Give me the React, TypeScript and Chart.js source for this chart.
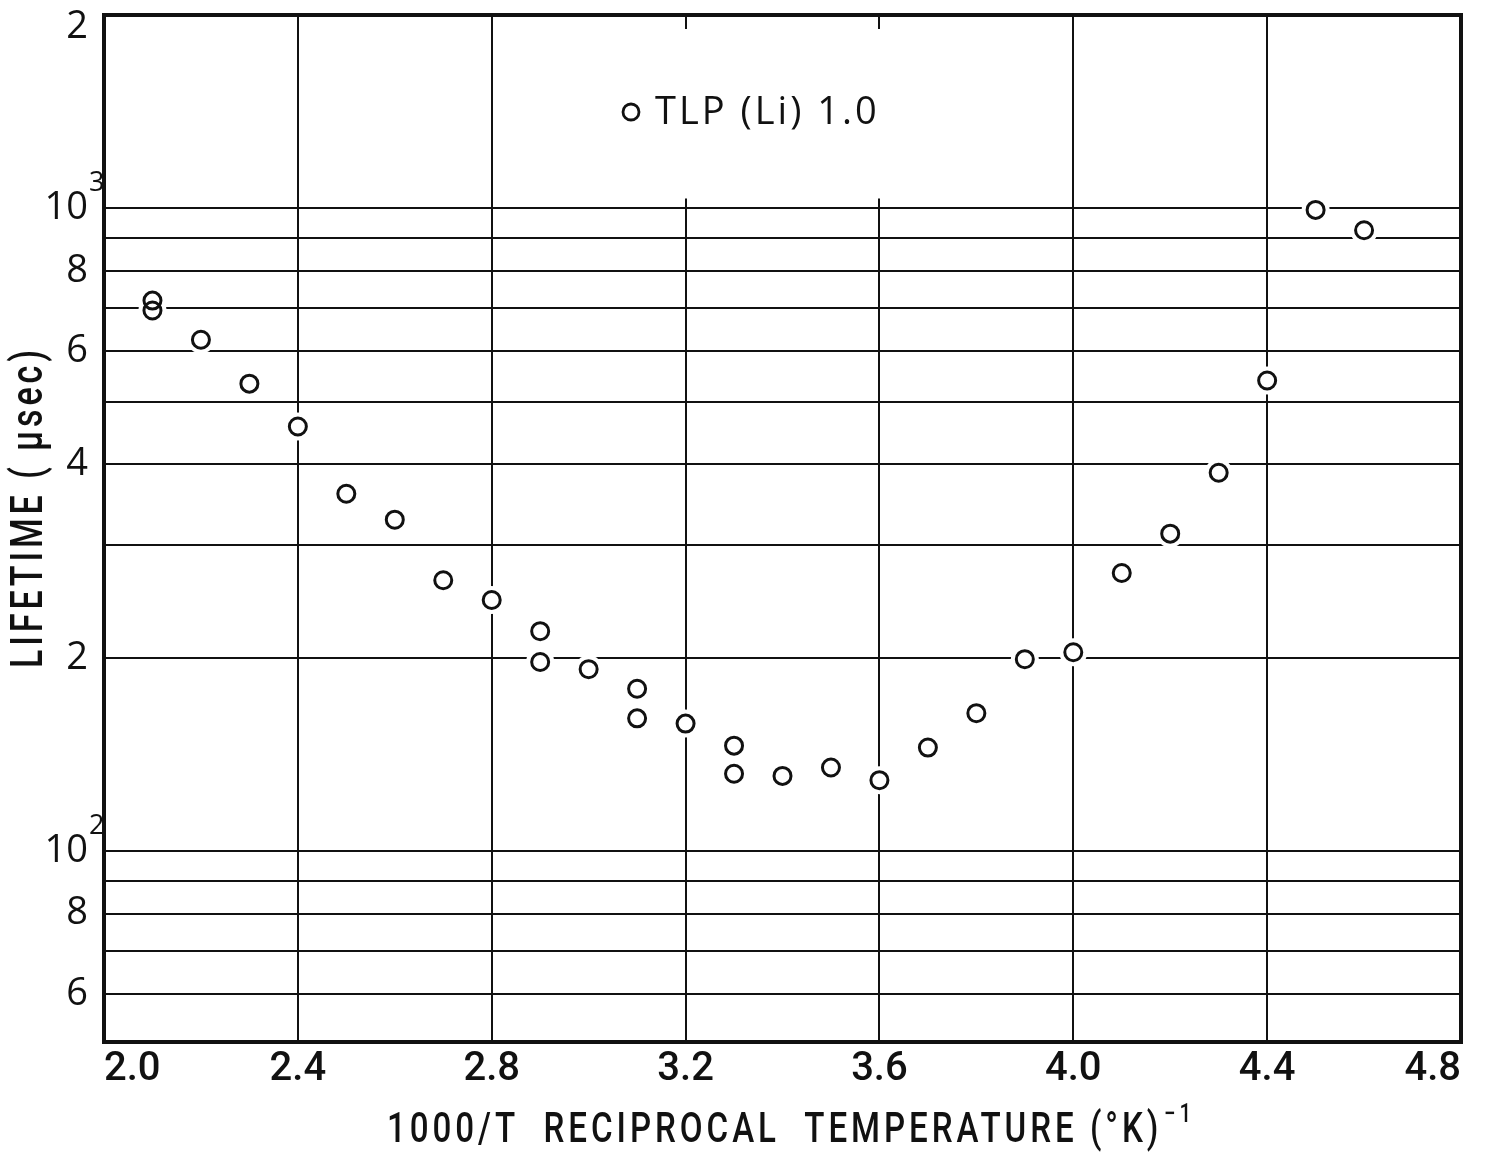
import React, { useEffect, useRef } from 'react';
import { Chart, registerables } from 'chart.js';

Chart.register(...registerables);

// Measured lifetimes of TLP (Li) 1.0 against reciprocal temperature
const reciprocalTemp = [
  2.1, 2.1, 2.2, 2.3, 2.4, 2.5, 2.6, 2.7, 2.8, 2.9, 2.9, 3.0, 3.1, 3.1, 3.2,
  3.3, 3.3, 3.4, 3.5, 3.6, 3.7, 3.8, 3.9, 4.0, 4.1, 4.2, 4.3, 4.4, 4.5, 4.6,
];
const lifetimeUsec = [
  719, 694, 625, 534, 458, 360, 328, 264, 246, 220, 197, 192, 179, 161, 158,
  146, 132, 131, 135, 129, 145, 164, 199, 204, 271, 312, 388, 540, 995, 925,
];

const seriesLabel = 'TLP (Li) 1.0';

// Axis ranges and tick layout
const X_MIN = 2.0;
const X_MAX = 4.8;
const Y_MIN = 50.5;
const Y_MAX = 2000;
const xTickValues = [2.0, 2.4, 2.8, 3.2, 3.6, 4.0, 4.4, 4.8];
const yGridValues = [60, 70, 80, 90, 100, 200, 300, 400, 500, 600, 700, 800, 900, 1000, 2000];
const yTickLabels: Record<number, string> = {
  2000: '2', 1000: '10', 800: '8', 600: '6', 400: '4', 200: '2', 100: '10', 80: '8', 60: '6',
};
const yTickExponents: Record<number, string> = { 1000: '3', 100: '2' };

const xTitle = '1000/T  RECIPROCAL  TEMPERATURE (°K)';
const xTitleExponent = '−1';
const yTitle = 'LIFETIME ( μsec)';

const INK = '#111';
const LETTERING = "Roboto, 'DejaVu Sans', sans-serif";
const WIDE = "'Open Sans', 'DejaVu Sans', sans-serif";
const WEIGHT = '500';

// Condensed lettering: draw at a natural width, then squeeze horizontally to a set length
function drawCondensed(
  ctx: CanvasRenderingContext2D,
  parts: { text: string; size: number; dx: number; dy: number }[],
  targetWidth: number,
  align: 'left' | 'center',
) {
  const widths = parts.map((p) => {
    ctx.font = `${WEIGHT} ${p.size}px ${LETTERING}`;
    return ctx.measureText(p.text).width;
  });
  const natural = widths.reduce((a, b, i) => a + b + parts[i].dx, 0);
  const sx = targetWidth / natural;
  ctx.save();
  ctx.scale(sx, 1);
  let cursor = align === 'center' ? -natural / 2 : 0;
  parts.forEach((p, i) => {
    cursor += p.dx;
    ctx.font = `${WEIGHT} ${p.size}px ${LETTERING}`;
    ctx.fillText(p.text, cursor, p.dy);
    cursor += widths[i];
  });
  ctx.restore();
}

const paperPlugin = {
  id: 'paperDecorations',
  beforeDatasetsDraw(chart: any) {
    const { ctx, chartArea, scales } = chart;
    const xs = scales.x;
    const ys = scales.y;
    // blank panel behind the legend (interrupts the vertical rulings)
    const x0 = xs.getPixelForValue(3.0);
    const x1 = xs.getPixelForValue(3.8);
    const y0 = chartArea.top + 14;
    const y1 = ys.getPixelForValue(1000) - 10;
    ctx.save();
    ctx.fillStyle = '#fff';
    ctx.fillRect(x0, y0, x1 - x0, y1 - y0);
    ctx.restore();
  },
  afterDatasetsDraw(chart: any) {
    const { ctx, chartArea, scales } = chart;
    const ys = scales.y;
    ctx.save();

    // plot frame
    ctx.strokeStyle = INK;
    ctx.lineWidth = 4;
    ctx.strokeRect(chartArea.left, chartArea.top, chartArea.right - chartArea.left, chartArea.bottom - chartArea.top);

    // top tick label sits just inside the frame
    const labelRight = chartArea.left - 16;
    ctx.fillStyle = INK;
    ctx.font = `${WEIGHT} 38px ${WIDE}`;
    ctx.textAlign = 'right';
    ctx.textBaseline = 'middle';
    ctx.fillText(yTickLabels[Y_MAX], labelRight, chartArea.top + 12);

    // powers of ten exponents
    ctx.font = `${WEIGHT} 27px ${WIDE}`;
    ctx.textAlign = 'left';
    Object.keys(yTickExponents).forEach((k) => {
      const v = Number(k);
      const py = ys.getPixelForValue(v);
      ctx.fillText(yTickExponents[v], labelRight + 1, py - 25);
    });

    // legend
    ctx.lineWidth = 2.8;
    ctx.beginPath();
    ctx.arc(631, 112, 8, 0, Math.PI * 2);
    ctx.stroke();
    ctx.font = `${WEIGHT} 38px ${WIDE}`;
    (ctx as any).letterSpacing = '3px';
    ctx.textAlign = 'left';
    ctx.textBaseline = 'middle';
    ctx.fillText(seriesLabel, 655, 113);

    // x-axis title with superscript
    (ctx as any).letterSpacing = '5px';
    ctx.textBaseline = 'alphabetic';
    ctx.save();
    ctx.translate(387, 1142);
    drawCondensed(
      ctx,
      [
        { text: xTitle, size: 42, dx: 0, dy: 0 },
        { text: xTitleExponent, size: 26, dx: 2, dy: -20 },
      ],
      808,
      'left',
    );
    ctx.restore();

    // y-axis title
    ctx.save();
    ctx.translate(31, 507);
    ctx.rotate(-Math.PI / 2);
    ctx.textBaseline = 'middle';
    drawCondensed(ctx, [{ text: yTitle, size: 44, dx: 0, dy: 0 }], 322, 'center');
    ctx.restore();

    ctx.restore();
  },
};

export default function App() {
  const canvasRef = useRef<HTMLCanvasElement | null>(null);

  useEffect(() => {
    if (!canvasRef.current) return;
    const points = reciprocalTemp.map((t, i) => ({ x: t, y: lifetimeUsec[i] }));

    const chart = new Chart(canvasRef.current, {
      type: 'scatter',
      data: {
        datasets: [
          {
            label: seriesLabel,
            data: points,
            showLine: false,
            pointRadius: 8.5,
            pointBorderWidth: 3,
            pointBorderColor: INK,
            pointBackgroundColor: 'rgba(255,255,255,0)',
            order: 0,
          },
          {
            label: 'clearance',
            data: points,
            showLine: false,
            pointRadius: 14,
            pointBorderWidth: 0,
            pointBorderColor: '#fff',
            pointBackgroundColor: '#fff',
            order: 1,
          },
        ],
      },
      options: {
        responsive: true,
        maintainAspectRatio: false,
        animation: false,
        events: [],
        layout: { padding: { top: 15, right: 26, left: 0, bottom: 0 } },
        plugins: {
          legend: { display: false },
          tooltip: { enabled: false },
        },
        scales: {
          x: {
            type: 'linear',
            min: X_MIN,
            max: X_MAX,
            afterBuildTicks: (s: any) => {
              s.ticks = xTickValues.map((v) => ({ value: v }));
            },
            afterFit: (s: any) => {
              s.height = 112;
              s.paddingLeft = 0;
              s.paddingRight = 0;
            },
            border: { display: false },
            grid: {
              drawTicks: false,
              lineWidth: 2,
              color: (c: any) =>
                c.tick && (c.tick.value === X_MIN || c.tick.value === X_MAX) ? 'rgba(0,0,0,0)' : INK,
            },
            ticks: {
              align: 'inner',
              padding: 4,
              autoSkip: false,
              maxRotation: 0,
              color: INK,
              font: { family: LETTERING, size: 40, weight: WEIGHT },
              callback: (v: any) => Number(v).toFixed(1),
            },
          },
          y: {
            type: 'logarithmic',
            min: Y_MIN,
            max: Y_MAX,
            afterBuildTicks: (s: any) => {
              s.ticks = [Y_MIN, ...yGridValues].map((v) => ({ value: v }));
            },
            afterFit: (s: any) => {
              s.width = 104;
              s.paddingTop = 0;
              s.paddingBottom = 0;
            },
            border: { display: false },
            grid: {
              drawTicks: false,
              lineWidth: 2,
              color: (c: any) =>
                c.tick && (c.tick.value === Y_MIN || c.tick.value === Y_MAX) ? 'rgba(0,0,0,0)' : INK,
            },
            ticks: {
              padding: 16,
              autoSkip: false,
              color: INK,
              font: { family: WIDE, size: 38, weight: WEIGHT },
              callback: (v: any) => (v === Y_MAX ? '' : yTickLabels[v] ?? ''),
            },
          },
        },
      },
      plugins: [paperPlugin],
    });

    return () => chart.destroy();
  }, []);

  return (
    <div style={{ position: 'absolute', left: 0, top: 0, width: 1487, height: 1154, background: '#fff' }}>
      <canvas ref={canvasRef} style={{ display: 'block' }} />
    </div>
  );
}
